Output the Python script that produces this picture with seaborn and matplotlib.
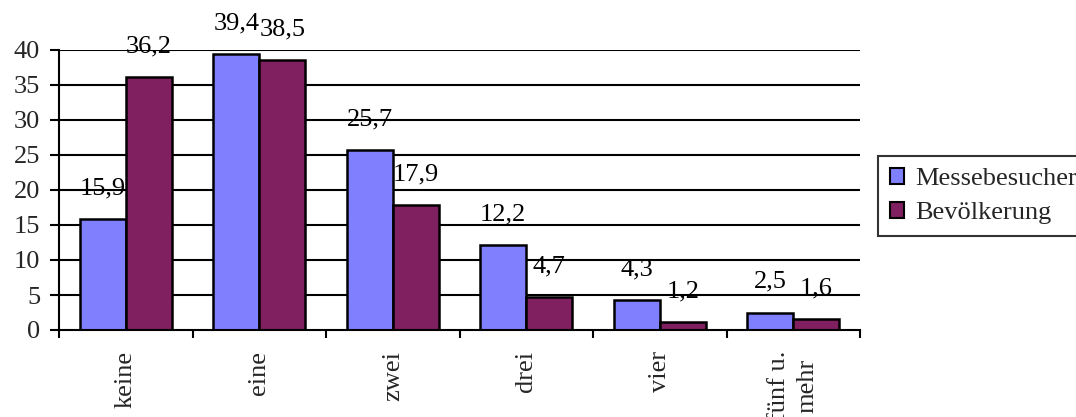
import matplotlib
matplotlib.use("Agg")
import matplotlib.pyplot as plt
import seaborn as sns
import pandas as pd
from matplotlib.patches import Patch

categories = ["keine", "eine", "zwei", "drei", "vier", "fünf u.\nmehr"]
messebesucher = [15.9, 39.4, 25.7, 12.2, 4.3, 2.5]
bevoelkerung = [36.2, 38.5, 17.9, 4.7, 1.2, 1.6]
series_names = ["Messebesucher", "Bevölkerung"]
colors = ["#8080FF", "#802060"]

df = pd.DataFrame({
    "cat": categories * 2,
    "value": messebesucher + bevoelkerung,
    "series": [series_names[0]] * 6 + [series_names[1]] * 6,
})

sns.set_theme(style="white")
plt.rcParams["font.family"] = ["Liberation Serif", "DejaVu Serif"]
FS = 19

fig = plt.figure(figsize=(10.76, 4.17), dpi=100)
ax = fig.add_axes([59/1076, 1 - 330/417, (860-59)/1076, 280/417])

sns.barplot(data=df, x="cat", y="value", hue="series", palette=colors,
            width=0.69, gap=0, edgecolor="black", linewidth=1.8,
            saturation=1, legend=False, ax=ax, zorder=3)

ax.set_ylim(0, 40)
ax.set_xlim(-0.5, 5.5)
ax.set_yticks(range(0, 41, 5))
for y in range(5, 41, 5):
    ax.axhline(y, color="black", linewidth=1.5, zorder=1)
ax.set_xlabel("")
ax.set_ylabel("")

for s in ["top", "right"]:
    ax.spines[s].set_visible(False)
for s in ["left", "bottom"]:
    ax.spines[s].set_visible(True)
    ax.spines[s].set_color("black")
    ax.spines[s].set_linewidth(1.5)
    ax.spines[s].set_zorder(4)

ax.tick_params(axis="y", direction="out", length=6.5, width=1.5, color="black",
               labelsize=FS, left=True, pad=7)
ax.set_xticks([i + 0.5 for i in range(-1, 6)], minor=True)
ax.set_xticks(range(6))
ax.set_xticklabels(categories, rotation=90, fontsize=FS, va="top", linespacing=1.35)
ax.tick_params(axis="x", which="major", length=0, pad=15, labelsize=FS)
ax.tick_params(axis="x", which="minor", direction="out", length=6, width=1.5,
               color="black", bottom=True)

for container in ax.containers:
    labels = [f"{v:.1f}".replace(".", ",") for v in container.datavalues]
    for bar, lab in zip(container, labels):
        xc = bar.get_x() + bar.get_width() / 2
        ax.annotate(lab, (xc, bar.get_height()), xytext=(0, 22),
                    textcoords="offset points", ha="center", va="center",
                    fontsize=FS, color="black", annotation_clip=False, zorder=5)

handles = [Patch(facecolor=c, edgecolor="black", linewidth=1.5) for c in colors]
leg = fig.legend(handles, series_names, loc="center left",
                 bbox_to_anchor=(878/1076, 1 - 196/417), fontsize=FS,
                 frameon=True, fancybox=False, edgecolor="black",
                 handlelength=0.55, handleheight=0.55, handletextpad=0.4,
                 borderpad=0.45, labelspacing=0.45, borderaxespad=0)
leg.get_frame().set_linewidth(1.5)

fig.savefig("out.png", dpi=100)
